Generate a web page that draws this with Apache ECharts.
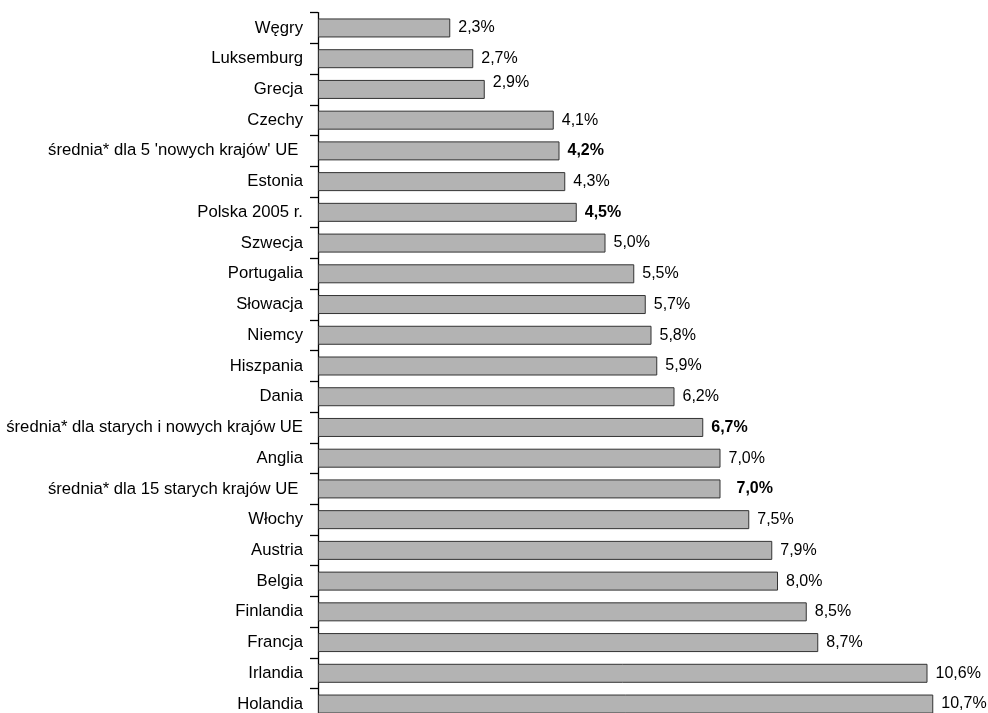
<!DOCTYPE html>
<html>
<head>
<meta charset="utf-8">
<script src="https://cdn.jsdelivr.net/npm/echarts@6/dist/echarts.min.js"></script>
<style>
html,body{margin:0;padding:0;background:#fff;}
#chart{width:988px;height:713px;}
</style>
</head>
<body>
<div id="chart"></div>
<script>
var categories = [
  "Węgry", "Luksemburg", "Grecja", "Czechy",
  "średnia* dla 5 'nowych krajów' UE ", "Estonia", "Polska 2005 r.",
  "Szwecja", "Portugalia", "Słowacja", "Niemcy", "Hiszpania", "Dania",
  "średnia* dla starych i nowych krajów UE", "Anglia",
  "średnia* dla 15 starych krajów UE ", "Włochy", "Austria", "Belgia",
  "Finlandia", "Francja", "Irlandia", "Holandia"
];
var values = [2.3, 2.7, 2.9, 4.1, 4.2, 4.3, 4.5, 5.0, 5.5, 5.7, 5.8, 5.9, 6.2,
  6.7, 7.0, 7.0, 7.5, 7.9, 8.0, 8.5, 8.7, 10.6, 10.7];
var boldCategories = [
  "średnia* dla 5 'nowych krajów' UE ", "Polska 2005 r.",
  "średnia* dla starych i nowych krajów UE", "średnia* dla 15 starych krajów UE "
];

var FONT = '"Liberation Sans", Arial, sans-serif';

var seriesData = values.map(function (v, i) {
  var item = { value: v };
  var lbl = {};
  if (boldCategories.indexOf(categories[i]) >= 0) lbl.fontWeight = 'bold';
  if (categories[i] === "średnia* dla 15 starych krajów UE ") lbl.distance = 16;
  if (categories[i] === "Grecja") lbl.offset = [0, -7];
  item.label = lbl;
  return item;
});

var chart = echarts.init(document.getElementById('chart'), null, { renderer: 'canvas' });
chart.setOption({
  animation: false,
  backgroundColor: '#ffffff',
  grid: { left: 318, top: 12.6, width: 632.5, height: 706.8, containLabel: false, outerBoundsMode: 'none' },
  xAxis: {
    type: 'value', min: 0, max: 11, show: false,
    splitLine: { show: false }
  },
  yAxis: {
    type: 'category', data: categories, inverse: true,
    axisLine: { show: true, lineStyle: { color: '#000', width: 1.3 } },
    axisTick: { show: true, inside: false, length: 8, lineStyle: { color: '#000', width: 1.3 } },
    axisLabel: {
      margin: 15, color: '#000', fontSize: 16.7,
      fontFamily: FONT
    },
    splitLine: { show: false }
  },
  series: [{
    type: 'bar',
    data: seriesData,
    barWidth: 19,
    itemStyle: { color: '#b3b3b3', borderColor: '#333', borderWidth: 1 },
    label: {
      show: true, position: 'right', distance: 8, color: '#000',
      fontSize: 16, fontFamily: FONT,
      formatter: function (p) { return p.value.toFixed(1).replace('.', ',') + '%'; }
    }
  }]
});
</script>
</body>
</html>
